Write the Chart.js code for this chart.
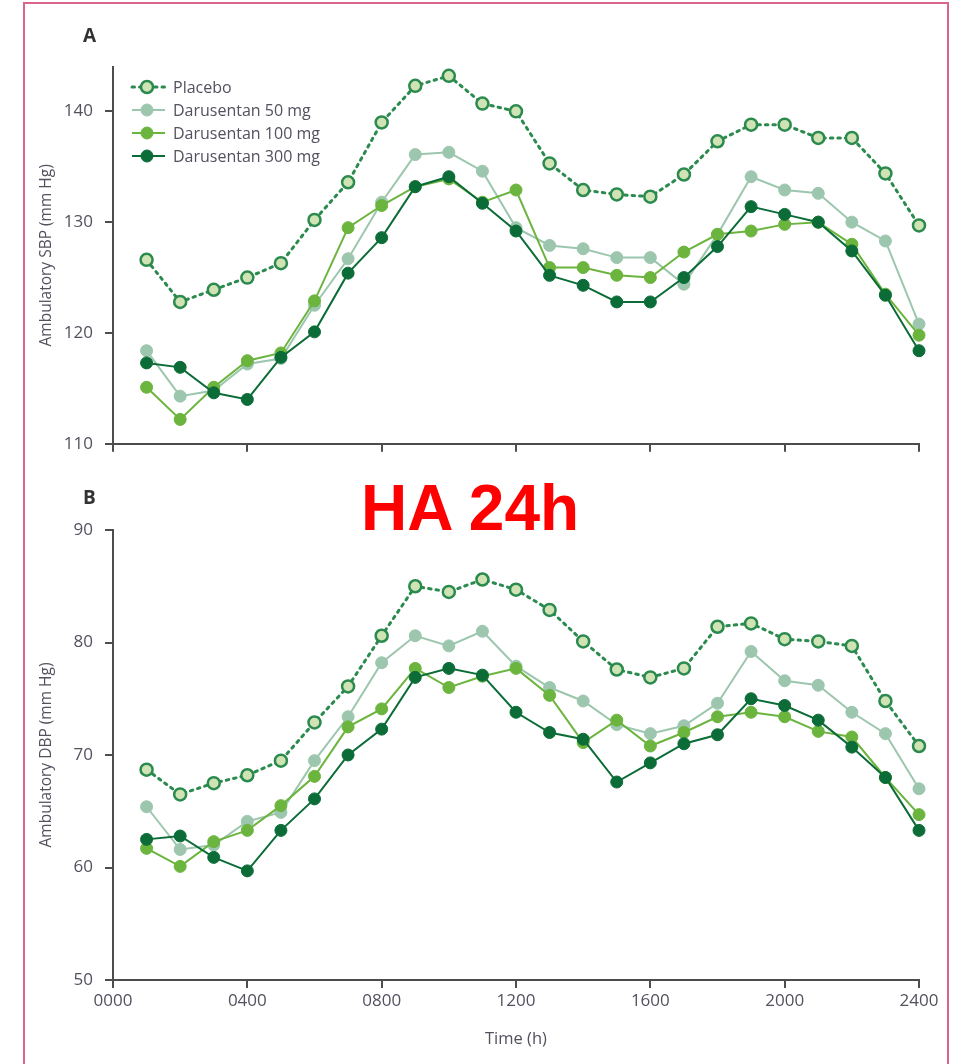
<!DOCTYPE html>
<html>
<head>
<meta charset="utf-8">
<script src="https://cdn.jsdelivr.net/npm/chart.js@4/dist/chart.umd.min.js"></script>
<style>
  body { margin: 0; background: #fff; }
  #page { position: relative; width: 962px; height: 1064px; overflow: hidden; }
  #frame { position: absolute; left: 23px; top: 2px; width: 926px; height: 1100px;
           border: 2.5px solid #d9668a; box-sizing: border-box; }
  .box { position: absolute; left: 0; width: 962px; }
  .panel { position: absolute; left: 83px; font: bold 19px "Open Sans", sans-serif; color: #333; }
  #stamp { position: absolute; left: 361px; top: 477px; font: bold 64px "Liberation Sans", Arial, sans-serif;
           line-height: 63px; color: #ff0000; white-space: nowrap; }
</style>
</head>
<body>
<div id="page">
  <div id="frame"></div>
  <div class="box" style="top:0;height:466px"><canvas id="sbpChart"></canvas></div>
  <div class="box" style="top:460px;height:604px"><canvas id="dbpChart"></canvas></div>
  <div class="panel" style="top:22px">A</div>
  <div class="panel" style="top:484px">B</div>
  <div id="stamp">HA 24h</div>
</div>
<script>
  // hours of the day (1..24)
  const hours = [1, 2, 3, 4, 5, 6, 7, 8, 9, 10, 11, 12, 13, 14, 15, 16, 17, 18, 19, 20, 21, 22, 23, 24];
  const seriesNames = ['Placebo', 'Darusentan 50 mg', 'Darusentan 100 mg', 'Darusentan 300 mg'];

  // panel A: ambulatory SBP
  const sbpPlacebo = [126.6, 122.8, 123.9, 125.0, 126.3, 130.2, 133.6, 139.0, 142.3, 143.2, 140.7, 140.0,
                      135.3, 132.9, 132.5, 132.3, 134.3, 137.3, 138.8, 138.8, 137.6, 137.6, 134.4, 129.7];
  const sbp50 = [118.4, 114.3, 114.8, 117.2, 117.7, 122.5, 126.7, 131.8, 136.1, 136.3, 134.6, 129.5,
                 127.9, 127.6, 126.8, 126.8, 124.4, 128.9, 134.1, 132.9, 132.6, 130.0, 128.3, 120.8];
  const sbp100 = [115.1, 112.2, 115.1, 117.5, 118.2, 122.9, 129.5, 131.5, 133.2, 133.9, 131.8, 132.9,
                  125.9, 125.9, 125.2, 125.0, 127.3, 128.9, 129.2, 129.8, 130.0, 128.0, 123.5, 119.8];
  const sbp300 = [117.3, 116.9, 114.6, 114.0, 117.8, 120.1, 125.4, 128.6, 133.2, 134.1, 131.7, 129.2,
                  125.2, 124.3, 122.8, 122.8, 125.0, 127.8, 131.4, 130.7, 130.0, 127.4, 123.4, 118.4];

  // panel B: ambulatory DBP
  const dbpPlacebo = [68.7, 66.5, 67.5, 68.2, 69.5, 72.9, 76.1, 80.6, 85.0, 84.5, 85.6, 84.7,
                      82.9, 80.1, 77.6, 76.9, 77.7, 81.4, 81.7, 80.3, 80.1, 79.7, 74.8, 70.8];
  const dbp50 = [65.4, 61.6, 62.0, 64.1, 64.9, 69.5, 73.4, 78.2, 80.6, 79.7, 81.0, 77.9,
                 76.0, 74.8, 72.7, 71.9, 72.6, 74.6, 79.2, 76.6, 76.2, 73.8, 71.9, 67.0];
  const dbp100 = [61.7, 60.1, 62.3, 63.3, 65.5, 68.1, 72.5, 74.1, 77.7, 76.0, 77.0, 77.7,
                  75.3, 71.1, 73.1, 70.8, 72.0, 73.4, 73.8, 73.4, 72.1, 71.6, 68.0, 64.7];
  const dbp300 = [62.5, 62.8, 60.9, 59.7, 63.3, 66.1, 70.0, 72.3, 76.9, 77.7, 77.1, 73.8,
                  72.0, 71.4, 67.6, 69.3, 71.0, 71.8, 75.0, 74.4, 73.1, 70.7, 68.0, 63.3];

  const xTicks = [0, 4, 8, 12, 16, 20, 24];
  const sbpTicks = [110, 120, 130, 140];
  const dbpTicks = [50, 60, 70, 80, 90];

  const textColor = '#55505e';
  const axisColor = '#4d4d4d';
  const fontFamily = '"Open Sans", sans-serif';

  function makeDatasets(placebo, d50, d100, d300) {
    const pts = arr => arr.map((v, i) => ({ x: hours[i], y: v }));
    return [
      { label: seriesNames[0], data: pts(placebo), order: 3, clip: false,
        borderColor: '#2b8a4e', borderWidth: 3, borderDash: [2.5, 5], borderCapStyle: 'round',
        pointRadius: 6, pointBackgroundColor: '#cfe3b4', pointBorderColor: '#2b8a4e', pointBorderWidth: 2.5 },
      { label: seriesNames[1], data: pts(d50), order: 2, clip: false,
        borderColor: '#9cc6ad', borderWidth: 2,
        pointRadius: 6, pointBackgroundColor: '#9cc6ad', pointBorderColor: '#9cc6ad', pointBorderWidth: 1 },
      { label: seriesNames[2], data: pts(d100), order: 1, clip: false,
        borderColor: '#6bb43d', borderWidth: 2,
        pointRadius: 6, pointBackgroundColor: '#6bb43d', pointBorderColor: '#6bb43d', pointBorderWidth: 1 },
      { label: seriesNames[3], data: pts(d300), order: 0, clip: false,
        borderColor: '#0b6c37', borderWidth: 2,
        pointRadius: 6, pointBackgroundColor: '#0b6c37', pointBorderColor: '#0b6c37', pointBorderWidth: 1 }
    ];
  }

  // legend drawn inside the plot, line + marker like the original figure
  const insideLegend = {
    id: 'insideLegend',
    afterDatasetsDraw(chart, args, opts) {
      if (!opts.show) return;
      const ctx = chart.ctx;
      const x0 = chart.chartArea.left + 19;
      const y0 = chart.chartArea.top + 20;
      chart.data.datasets.forEach((ds, i) => {
        const y = y0 + i * 23;
        ctx.save();
        ctx.strokeStyle = ds.borderColor;
        ctx.lineWidth = ds.borderWidth;
        ctx.lineCap = ds.borderCapStyle || 'butt';
        ctx.setLineDash(ds.borderDash || []);
        ctx.beginPath();
        ctx.moveTo(x0, y);
        ctx.lineTo(x0 + 33, y);
        ctx.stroke();
        ctx.setLineDash([]);
        ctx.beginPath();
        ctx.arc(x0 + 15, y, ds.pointRadius, 0, Math.PI * 2);
        ctx.fillStyle = ds.pointBackgroundColor;
        ctx.fill();
        ctx.lineWidth = ds.pointBorderWidth;
        ctx.strokeStyle = ds.pointBorderColor;
        ctx.stroke();
        ctx.fillStyle = textColor;
        ctx.font = '16px ' + fontFamily;
        ctx.textBaseline = 'middle';
        ctx.fillText(ds.label, x0 + 41, y + 1);
        ctx.restore();
      });
    }
  };

  function makeConfig(opt) {
    return {
      type: 'line',
      data: { datasets: opt.datasets },
      options: {
        responsive: true,
        maintainAspectRatio: false,
        animation: false,
        layout: { padding: { left: 0, top: opt.padTop, right: 43, bottom: 0 } },
        plugins: {
          legend: { display: false },
          tooltip: { enabled: false },
          insideLegend: { show: opt.legend }
        },
        scales: {
          x: {
            type: 'linear', min: 0, max: 24,
            afterFit: s => { s.height = opt.xHeight; },
            afterBuildTicks: s => { s.ticks = xTicks.map(v => ({ value: v })); },
            grid: { drawOnChartArea: false, drawTicks: true, tickLength: 8, color: axisColor, lineWidth: 2 },
            border: { display: true, color: axisColor, width: 2 },
            ticks: {
              display: opt.xLabels, padding: 3, color: textColor,
              font: { family: fontFamily, size: 17 },
              callback: v => String(v * 100).padStart(4, '0')
            },
            title: {
              display: opt.xLabels, text: 'Time (h)', color: textColor,
              font: { family: fontFamily, size: 16.5 }, padding: { top: 0, bottom: 15 }
            }
          },
          y: {
            min: opt.yMin, max: opt.yMax,
            afterFit: s => { s.width = 113; },
            afterBuildTicks: s => { s.ticks = opt.yTicks.map(v => ({ value: v })); },
            grid: { drawOnChartArea: false, drawTicks: true, tickLength: 8, color: axisColor, lineWidth: 2 },
            border: { display: true, color: axisColor, width: 2 },
            ticks: { padding: 12, color: textColor, font: { family: fontFamily, size: 17 } },
            title: {
              display: true, text: opt.yTitle, color: textColor,
              font: { family: fontFamily, size: 15.5 }, padding: { top: 37, bottom: 0 }
            }
          }
        }
      },
      plugins: [insideLegend]
    };
  }

  const sbpChart = new Chart(document.getElementById('sbpChart'), makeConfig({
    datasets: makeDatasets(sbpPlacebo, sbp50, sbp100, sbp300),
    padTop: 67, xHeight: 16, xLabels: false, legend: true,
    yMin: 110, yMax: 144, yTicks: sbpTicks, yTitle: 'Ambulatory SBP (mm Hg)'
  }));

  const dbpChart = new Chart(document.getElementById('dbpChart'), makeConfig({
    datasets: makeDatasets(dbpPlacebo, dbp50, dbp100, dbp300),
    padTop: 70, xHeight: 84, xLabels: true, legend: false,
    yMin: 50, yMax: 90, yTicks: dbpTicks, yTitle: 'Ambulatory DBP (mm Hg)'
  }));
</script>
</body>
</html>
